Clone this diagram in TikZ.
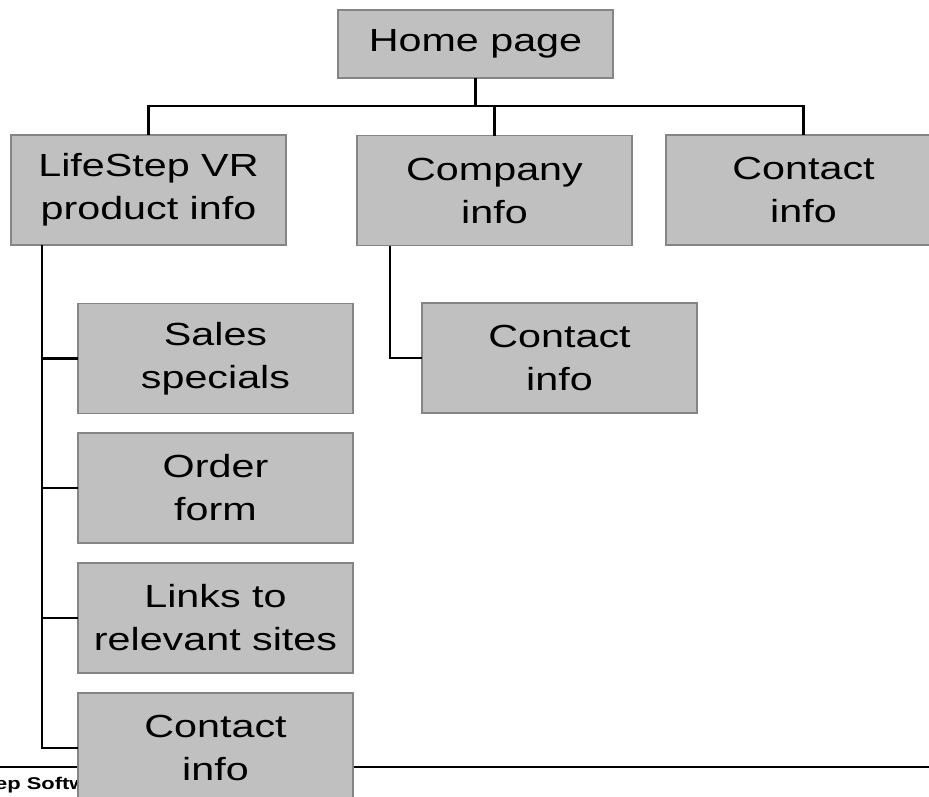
\documentclass[tikz,border=0pt]{standalone}
\usepackage{fontspec}
\setmainfont{Liberation Sans}[FakeStretch=1.29]
\definecolor{boxfill}{HTML}{C0C0C0}
\definecolor{boxline}{HTML}{858585}
\tikzset{
  page/.style={inner sep=0pt, outer sep=0pt, draw=boxline, line width=1.8pt, fill=boxfill,
    minimum width=275pt, minimum height=110pt, align=center,
    font=\fontsize{32}{43}\selectfont},
  wire/.style={line width=2.7pt, black}
}
\begin{document}
\begin{tikzpicture}[x=1pt, y=-1pt]
  \useasboundingbox (0,0) rectangle (929,796);
  \clip (0,0) rectangle (929,796);

  % footer rule and caption, drawn first so the pages cover them
  \draw[line width=2.4pt] (0,767) coordinate (ruleL) -- (929,767) coordinate (ruleR);
  \node[anchor=base west, inner sep=0pt, font=\bfseries\fontsize{17}{19}\selectfont] (foot) at (-5,789) {ep Softw};

  % pages
  \node[page, minimum height=68pt] (home) at (475.5,44) {Home page};
  \node[page] (life)     at (148.5,190)  {LifeStep VR\\product info};
  \node[page] (company)  at (494.5,190.5) {Company\\info};
  \node[page] (contactA) at (803.5,190)  {Contact\\info};
  \node[page] (contactB) at (559.5,358)  {Contact\\info};
  \node[page] (sales)    at (215.5,358.5) {Sales\\specials};
  \node[page] (order)    at (215.5,488)  {Order\\form};
  \node[page] (links)    at (215.5,618)  {Links to\\relevant sites};
  \node[page] (contactC) at (215.5,748)  {Contact\\info};

  % top-level bus
  \coordinate (busL) at (148.5,106);
  \coordinate (busR) at (803.5,106);
  \draw[wire] (home.south) -- (home.south |- busL);
  \draw[wire] (life.north) -- (busL) -- (busR) -- (contactA.north);
  \draw[wire] (company.north) -- (company.north |- busL);

  % product info branch
  \coordinate (trunk) at ([xshift=31pt]life.south west);
  \draw[wire] (trunk) |- (contactC.west);
  \draw[wire] (trunk |- sales.west) -- (sales.west);
  \draw[wire] (trunk |- order.west) -- (order.west);
  \draw[wire] (trunk |- links.west) -- (links.west);

  % company info branch
  \draw[wire] ([xshift=33pt]company.south west) |- (contactB.west);
\end{tikzpicture}
\end{document}
